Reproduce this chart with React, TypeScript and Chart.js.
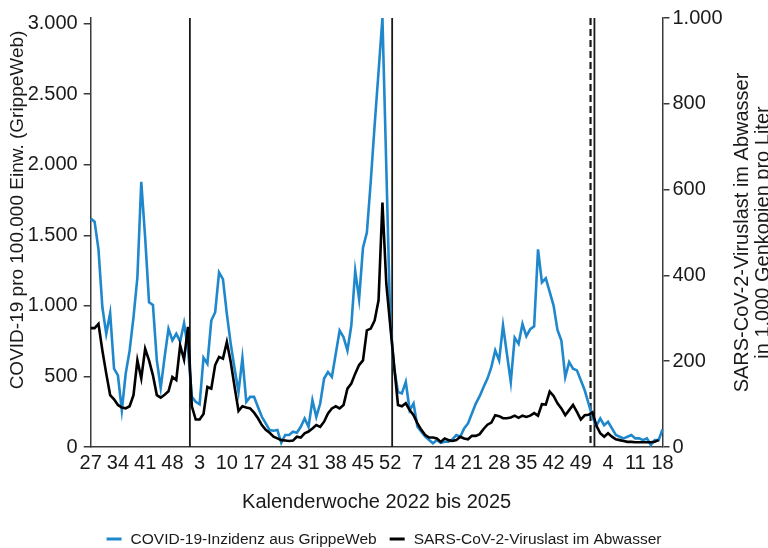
import React, { useEffect, useRef } from 'react';
import { Chart, registerables } from 'chart.js';

Chart.register(...registerables);

// Calendar weeks shown on the x axis (2022 KW27 – 2025 KW18)
const weeks2022 = [27, 28, 29, 30, 31, 32, 33, 34, 35, 36, 37, 38, 39, 40, 41, 42, 43, 44, 45, 46, 47, 48, 49, 50, 51, 52];
const weeks2023 = [1, 2, 3, 4, 5, 6, 7, 8, 9, 10, 11, 12, 13, 14, 15, 16, 17, 18, 19, 20, 21, 22, 23, 24, 25, 26, 27, 28, 29, 30, 31, 32, 33, 34, 35, 36, 37, 38, 39, 40, 41, 42, 43, 44, 45, 46, 47, 48, 49, 50, 51, 52];
const weeks2024 = [1, 2, 3, 4, 5, 6, 7, 8, 9, 10, 11, 12, 13, 14, 15, 16, 17, 18, 19, 20, 21, 22, 23, 24, 25, 26, 27, 28, 29, 30, 31, 32, 33, 34, 35, 36, 37, 38, 39, 40, 41, 42, 43, 44, 45, 46, 47, 48, 49, 50, 51, 52];
const weeks2025 = [1, 2, 3, 4, 5, 6, 7, 8, 9, 10, 11, 12, 13, 14, 15, 16, 17, 18];
const weekLabels = [...weeks2022, ...weeks2023, ...weeks2024, ...weeks2025].map(String);

// COVID-19-Inzidenz aus GrippeWeb (pro 100.000 Einw.)
const grippeWeb = [
  1620, 1597, 1401, 990, 802, 948, 555, 508, 261, 520,
  682, 919, 1201, 1879, 1484, 1025, 1006, 614, 418, 637,
  837, 755, 802, 748, 877, 700, 355, 320, 303, 633,
  590, 896, 955, 1237, 1190, 943, 731, 555, 390, 630,
  320, 355, 355, 284, 214, 167, 120, 115, 120, 30,
  85, 85, 108, 101, 143, 202, 143, 332, 214, 308,
  485, 531, 496, 661, 825, 778, 684, 861, 1249, 1049,
  1413, 1519, 1883, 2283, 2659, 3040, 1977, 896, 560, 390,
  380, 461, 261, 308, 143, 108, 73, 49, 26, 49,
  30, 37, 37, 54, 85, 73, 132, 167, 238, 308,
  360, 425, 485, 566, 684, 614, 861, 661, 461, 775,
  731, 872, 785, 835, 855, 1401, 1166, 1195, 1100, 1002,
  830, 755, 496, 602, 555, 543, 473, 402, 308, 210,
  150, 202, 155, 179, 132, 85, 73, 61, 73, 85,
  61, 61, 49, 61, 14, 49, 49, 125,
];

// SARS-CoV-2-Viruslast im Abwasser (1.000 Genkopien pro Liter)
const abwasser = [
  277, 277, 287, 225, 171, 121, 111, 98, 92, 90,
  95, 121, 202, 160, 229, 202, 167, 121, 115, 122,
  130, 163, 156, 237, 204, 280, 95, 64, 64, 77,
  140, 136, 191, 210, 206, 245, 198, 140, 84, 95,
  92, 90, 80, 67, 51, 40, 33, 24, 20, 16,
  15, 14, 15, 24, 22, 32, 36, 43, 51, 47,
  59, 78, 90, 95, 90, 98, 136, 148, 171, 191,
  202, 272, 276, 295, 342, 570, 380, 284, 190, 98,
  95, 102, 86, 74, 55, 40, 28, 22, 22, 20,
  12, 20, 16, 14, 16, 24, 20, 18, 26, 26,
  30, 42, 52, 57, 74, 72, 67, 67, 69, 73,
  68, 73, 70, 73, 79, 73, 100, 99, 129, 119,
  102, 90, 74, 86, 98, 82, 64, 74, 75, 81,
  50, 32, 24, 32, 24, 18, 16, 14, 12, 12,
  11, 11, 11, 11, 11, 12, 16, null,
];

// Year boundaries (solid) and data-status marker (dashed), in x-axis units
const yearBreaks = [25.5, 77.5, 129.5];
const dashedMarks = [128.5];

const leftMax = 3040;
const leftTickValues = [0, 500, 1000, 1500, 2000, 2500, 3000];
const rightMax = 1000;
const rightTickValues = [0, 200, 400, 600, 800, 1000];
const xTickEvery = 7;

const seriesNames = ['COVID-19-Inzidenz aus GrippeWeb', 'SARS-CoV-2-Viruslast im Abwasser'];
const leftTitle = 'COVID-19 pro 100.000 Einw. (GrippeWeb)';
const rightTitle = ['SARS-CoV-2-Viruslast im Abwasser', 'in 1.000 Genkopien pro Liter'];
const xTitle = 'Kalenderwoche 2022 bis 2025';

const BLUE = '#1f87cc';
const INK = '#1a1a1a';
const AXIS = '#3a3a3a';
const FONT = '"Liberation Sans", Arial, sans-serif';

const fmtDe = (v: number) => String(Math.round(v)).replace(/\B(?=(\d{3})+(?!\d))/g, '.');

const decorations = {
  id: 'decorations',
  beforeDatasetsDraw(chart: any) {
    const { ctx, chartArea, scales } = chart;
    const x = scales.x;
    ctx.save();
    ctx.strokeStyle = INK;
    ctx.lineWidth = 1.8;
    yearBreaks.forEach((v) => {
      const px = x.getPixelForValue(v);
      ctx.beginPath();
      ctx.moveTo(px, chartArea.top);
      ctx.lineTo(px, chartArea.bottom);
      ctx.stroke();
    });
    ctx.lineWidth = 2.2;
    ctx.setLineDash([7, 4]);
    dashedMarks.forEach((v) => {
      const px = x.getPixelForValue(v);
      ctx.beginPath();
      ctx.moveTo(px, chartArea.top);
      ctx.lineTo(px, chartArea.bottom);
      ctx.stroke();
    });
    ctx.restore();
  },
  afterDraw(chart: any) {
    const { ctx, chartArea, width } = chart;
    ctx.save();
    ctx.fillStyle = INK;

    // Left axis title
    ctx.font = `19px ${FONT}`;
    ctx.textAlign = 'center';
    ctx.textBaseline = 'middle';
    ctx.save();
    ctx.translate(18, 210);
    ctx.rotate(-Math.PI / 2);
    ctx.fillText(leftTitle, 0, 0);
    ctx.restore();

    // Right axis title (two lines, reading bottom to top)
    ctx.font = `20px ${FONT}`;
    const midY = (chartArea.top + chartArea.bottom) / 2;
    [742, 763].forEach((cx, i) => {
      ctx.save();
      ctx.translate(cx, midY);
      ctx.rotate(-Math.PI / 2);
      ctx.fillText(rightTitle[i], 0, 0);
      ctx.restore();
    });

    // X axis title
    ctx.textBaseline = 'alphabetic';
    ctx.font = `20px ${FONT}`;
    ctx.fillText(xTitle, (chartArea.left + chartArea.right) / 2, 508);

    // Legend
    ctx.font = `15.5px ${FONT}`;
    const colors = [BLUE, '#000'];
    const markerW = 15;
    const markerGap = 9;
    const itemGap = 13;
    const widths = seriesNames.map((s) => ctx.measureText(s).width);
    const total = widths.reduce((a, w) => a + markerW + markerGap + w, 0) + itemGap;
    let lx = (width - total) / 2;
    const ly = 539;
    ctx.textAlign = 'left';
    ctx.textBaseline = 'middle';
    seriesNames.forEach((s, i) => {
      ctx.strokeStyle = colors[i];
      ctx.lineWidth = 3;
      ctx.beginPath();
      ctx.moveTo(lx, ly);
      ctx.lineTo(lx + markerW, ly);
      ctx.stroke();
      ctx.fillStyle = INK;
      ctx.fillText(s, lx + markerW + markerGap, ly + 1);
      lx += markerW + markerGap + widths[i] + itemGap;
    });
    ctx.restore();
  },
};

export default function App() {
  const canvasRef = useRef<HTMLCanvasElement | null>(null);

  useEffect(() => {
    const canvas = canvasRef.current;
    if (!canvas) return;
    const chart = new Chart(canvas, {
      type: 'line',
      data: {
        labels: weekLabels,
        datasets: [
          {
            label: seriesNames[0],
            data: grippeWeb,
            borderColor: BLUE,
            backgroundColor: BLUE,
            borderWidth: 2.6,
            pointRadius: 0,
            tension: 0,
            yAxisID: 'y',
            order: 1,
          },
          {
            label: seriesNames[1],
            data: abwasser,
            borderColor: '#000',
            backgroundColor: '#000',
            borderWidth: 2.6,
            pointRadius: 0,
            tension: 0,
            yAxisID: 'y1',
            order: 0,
          },
        ],
      },
      options: {
        responsive: false,
        animation: false,
        layout: { padding: { top: 16, left: 0, right: 0, bottom: 0 } },
        plugins: {
          legend: { display: false },
          title: { display: false },
          tooltip: { enabled: false },
        },
        scales: {
          x: {
            type: 'category',
            offset: false,
            grid: { display: false, drawTicks: false },
            border: { display: true, color: AXIS, width: 1.5 },
            ticks: {
              autoSkip: false,
              maxRotation: 0,
              minRotation: 0,
              padding: 4,
              color: INK,
              font: { family: FONT, size: 20 },
              callback: (_v: any, idx: number) => (idx % xTickEvery === 0 ? weekLabels[idx] : null),
            },
            afterFit: (s: any) => {
              s.height = 101;
            },
          },
          y: {
            type: 'linear',
            position: 'left',
            min: 0,
            max: leftMax,
            grid: { drawOnChartArea: false, drawTicks: true, tickLength: 7, color: AXIS, lineWidth: 1.5 },
            border: { display: true, color: AXIS, width: 1.5 },
            afterBuildTicks: (s: any) => {
              s.ticks = leftTickValues.map((value) => ({ value }));
            },
            ticks: {
              padding: 6,
              color: INK,
              font: { family: FONT, size: 20 },
              callback: (v: any) => fmtDe(Number(v)),
            },
            afterFit: (s: any) => {
              s.width = 90.7;
            },
          },
          y1: {
            type: 'linear',
            position: 'right',
            min: 0,
            max: rightMax,
            grid: { drawOnChartArea: false, drawTicks: true, tickLength: 7, color: AXIS, lineWidth: 1.5 },
            border: { display: true, color: AXIS, width: 1.5 },
            afterBuildTicks: (s: any) => {
              s.ticks = rightTickValues.map((value) => ({ value }));
            },
            ticks: {
              padding: 3,
              color: INK,
              font: { family: FONT, size: 20 },
              callback: (v: any) => fmtDe(Number(v)),
            },
            afterFit: (s: any) => {
              s.width = 105.5;
            },
          },
        },
      },
      plugins: [decorations],
    });
    return () => chart.destroy();
  }, []);

  return (
    <div style={{ position: 'fixed', left: 0, top: 0, width: 768, height: 548, background: '#fff' }}>
      <canvas ref={canvasRef} width={768} height={548} style={{ display: 'block' }} />
    </div>
  );
}
